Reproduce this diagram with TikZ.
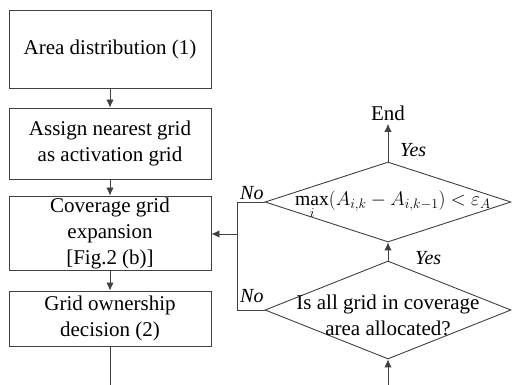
\RequirePackage{fix-cm}
\documentclass[tikz,border=0pt]{standalone}
\usepackage{fontspec}
\setmainfont{Liberation Serif}
\usetikzlibrary{shapes.geometric,arrows.meta,calc}
\usepackage{amsmath,amssymb}

\begin{document}
\begin{tikzpicture}[x=1pt, y=-1pt, font=\fontsize{21}{26}\selectfont,
  proc/.style={draw=black!75, line width=0.9pt, minimum width=202pt, align=center, inner sep=0pt},
  decision/.style={diamond, draw=black!75, line width=0.9pt, minimum width=246pt, inner sep=0pt},
  lbl/.style={font=\fontsize{20}{24}\selectfont\itshape, inner sep=0pt, anchor=west},
  arr/.style={draw=black!75, line width=0.9pt, -{Latex[length=8pt,width=7.5pt]}},
  ln/.style={draw=black!75, line width=0.9pt}]

\useasboundingbox (0,0) rectangle (512,385);

%left column: process boxes
\node[proc, minimum height=78pt] (dist) at (110,49) {Area distribution (1)};
\node[proc, minimum height=71pt] (act) at (110,143.5) {Assign nearest grid\\as activation grid};
\node[proc, minimum height=74pt] (expand) at (110,233) {Coverage grid\\expansion\\{}[Fig.2 (b)]};
\node[proc, minimum height=55pt] (own) at (110,318.5) {Grid ownership\\decision (2)};

%right column: two checks and the end
\node (end) at (388,113) {End};
\node[decision, minimum height=80pt] (conv) at (388,202) {};
\node[font=\fontsize{19.6}{23}\selectfont, inner sep=0pt] (convtxt) at (393,205)
  {$\max\limits_{i}(A_{i,k}-A_{i,k-1})<\varepsilon_A$};
\node[decision, minimum height=98pt] (alloc) at (388,310) {};
\node[align=center] (alloctxt) at (388,315) {Is all grid in coverage\\area allocated?};

%free ends at the bottom
\coordinate (botL) at (110,385);
\coordinate (botR) at (388,385);
\coordinate (join) at (237,234);

%main flow
\draw[arr] (dist) -- (act);
\draw[arr] (act) -- (expand);
\draw[arr] (expand) -- (own);
\draw[ln] (own) -- (botL);
\draw[arr] (botR) -- (alloc);
\draw[arr] (alloc) -- (conv);
\draw[arr] (conv) -- (end);

%feedback on No
\draw[ln] (conv.west) -| (join);
\draw[ln] (alloc.west) -| (join);
\draw[arr] (join) -- (expand.east |- join);

%branch labels
\node[lbl] (yes1) at (400,150) {Yes};
\node[lbl] (yes2) at (415,258) {Yes};
\node[lbl] (no1) at (240,193) {No};
\node[lbl] (no2) at (240,296) {No};

\end{tikzpicture}
\end{document}
